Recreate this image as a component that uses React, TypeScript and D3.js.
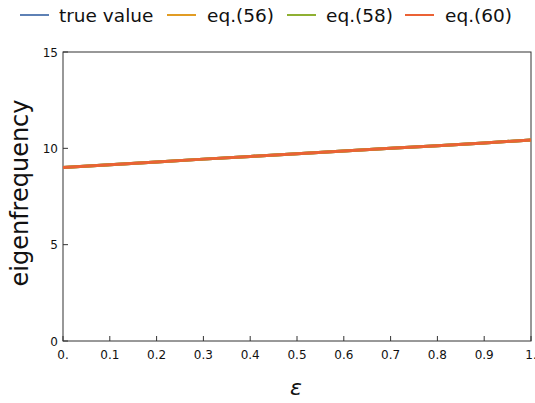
import React from "react";
import * as d3 from "d3";

const epsValues = [0, 0.1, 0.2, 0.3, 0.4, 0.5, 0.6, 0.7, 0.8, 0.9, 1.0];
const trueValue = [9.0, 9.15, 9.29, 9.44, 9.58, 9.72, 9.86, 10.0, 10.14, 10.28, 10.43];
const eq56 = [9.0, 9.15, 9.29, 9.44, 9.58, 9.72, 9.86, 10.0, 10.14, 10.28, 10.43];
const eq58 = [9.0, 9.15, 9.29, 9.44, 9.58, 9.72, 9.86, 10.0, 10.14, 10.28, 10.43];
const eq60 = [9.0, 9.15, 9.29, 9.44, 9.58, 9.72, 9.86, 10.0, 10.14, 10.28, 10.43];
const seriesNames = ["true value", "eq.(56)", "eq.(58)", "eq.(60)"];
const seriesColors = ["#5e81b5", "#e19c24", "#8fb032", "#eb6235"];
const xTicks = [0, 0.1, 0.2, 0.3, 0.4, 0.5, 0.6, 0.7, 0.8, 0.9, 1.0];
const xTickLabels = ["0.", "0.1", "0.2", "0.3", "0.4", "0.5", "0.6", "0.7", "0.8", "0.9", "1."];
const yTicks = [0, 5, 10, 15];

const legendX = [[20, 59], [167, 207], [287, 326], [405, 445]];

export default function App() {
  const W = 535, H = 403;
  const left = 63, right = 531, top = 52, bottom = 341;
  const x = d3.scaleLinear().domain([0, 1]).range([left, right]);
  const y = d3.scaleLinear().domain([0, 15]).range([bottom, top]);
  const line = d3.line<number>().x((_, i) => x(epsValues[i])).y((d) => y(d));
  const series = [trueValue, eq56, eq58, eq60];
  const font = "'DejaVu Sans', sans-serif";
  return (
    <svg width={W} height={H} style={{ position: "absolute", left: 0, top: 0, background: "#fff" }} fontFamily={font}>
      {seriesNames.map((n, i) => (
        <g key={n}>
          <line x1={legendX[i][0]} x2={legendX[i][0] + 29} y1={15} y2={15} stroke={seriesColors[i]} strokeWidth={2} />
          <text x={legendX[i][1]} y={21.5} fontSize={18.5} fill="#111">{n}</text>
        </g>
      ))}
      <rect x={left} y={top} width={right - left} height={bottom - top} fill="none" stroke="#333" strokeWidth={1} />
      {xTicks.map((t, i) => (
        <g key={"x" + i}>
          <line x1={x(t)} x2={x(t)} y1={bottom} y2={bottom - 5} stroke="#333" />
          <text x={x(t)} y={359} fontSize={12} textAnchor="middle" fill="#111">{xTickLabels[i]}</text>
        </g>
      ))}
      {yTicks.map((t) => (
        <g key={"y" + t}>
          <line x1={left} x2={left + 5} y1={y(t)} y2={y(t)} stroke="#333" />
          <text x={left - 5} y={y(t) + 4.5} fontSize={12} textAnchor="end" fill="#111">{t}</text>
        </g>
      ))}
      {series.map((s, i) => (
        <path key={i} d={line(s) || ""} fill="none" stroke={seriesColors[i]} strokeWidth={3} />
      ))}
      <text transform={`translate(28,193) rotate(-90)`} fontSize={24} textAnchor="middle" fill="#111">eigenfrequency</text>
      <text x={296} y={395} fontSize={22} fontStyle="italic" textAnchor="middle" fill="#111">ε</text>
    </svg>
  );
}
